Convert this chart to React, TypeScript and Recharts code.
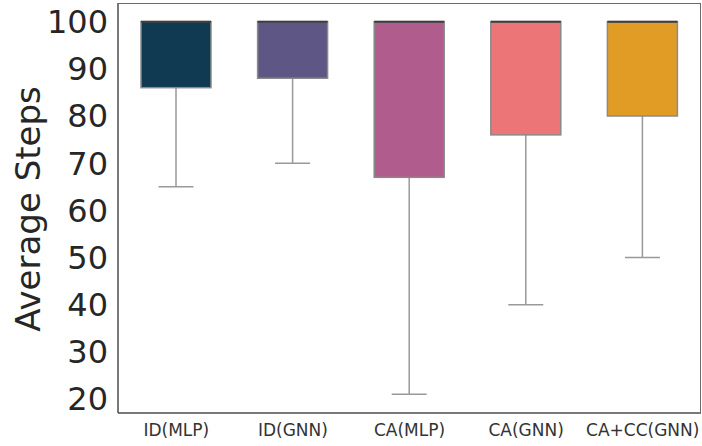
import React from 'react'
import { BarChart, Bar, XAxis, YAxis, Label } from 'recharts'

const categories = ['ID(MLP)', 'ID(GNN)', 'CA(MLP)', 'CA(GNN)', 'CA+CC(GNN)']
const whiskerLow = [65, 70, 21, 40, 50]
const q1 = [86, 88, 67, 76, 80]
const median = [100, 100, 100, 100, 100]
const q3 = [100, 100, 100, 100, 100]
const whiskerHigh = [100, 100, 100, 100, 100]
const boxColors = ['#0f3a52', '#5e5785', '#b05c8c', '#ec7577', '#e09c24']
const yTicks = [20, 30, 40, 50, 60, 70, 80, 90, 100]

const data = categories.map((name, i) => ({
  name,
  range: [whiskerLow[i], whiskerHigh[i]],
  low: whiskerLow[i],
  q1: q1[i],
  med: median[i],
  q3: q3[i],
  high: whiskerHigh[i],
  color: boxColors[i],
}))

function BoxShape(props: any) {
  const { x, y, width, height, payload } = props
  const top = Math.min(y, y + height)
  const h = Math.abs(height)
  const { low, high } = payload
  const py = (v: number) => (high === low ? top : top + (h * (high - v)) / (high - low))
  const cx = x + width / 2
  const capW = width / 2
  const whisker = '#999999'
  return (
    <g>
      <line x1={cx} x2={cx} y1={py(payload.low)} y2={py(payload.q1)} stroke={whisker} strokeWidth={1.5} />
      <line x1={cx - capW / 2} x2={cx + capW / 2} y1={py(payload.low)} y2={py(payload.low)} stroke={whisker} strokeWidth={1.5} />
      <line x1={cx} x2={cx} y1={py(payload.high)} y2={py(payload.q3)} stroke={whisker} strokeWidth={1.5} />
      <rect
        x={x}
        y={py(payload.q3)}
        width={width}
        height={py(payload.q1) - py(payload.q3)}
        fill={payload.color}
        stroke="#8a8a8a"
        strokeWidth={1.5}
      />
      <line x1={x} x2={x + width} y1={py(payload.med)} y2={py(payload.med)} stroke="#3d3d3d" strokeWidth={2} />
    </g>
  )
}

export default function App() {
  return (
    <div style={{ position: 'fixed', top: 0, left: 0, width: 702, height: 446, background: '#fff' }}>
      <BarChart width={702} height={446} data={data} margin={{ top: 3, right: 1, bottom: 0, left: 0 }}>
        <XAxis
          dataKey="name"
          height={33}
          tickLine={false}
          tickSize={8}
          tickMargin={3}
          axisLine={{ stroke: '#4d4d4d', strokeWidth: 1.5 }}
          tick={{ fontSize: 17, fill: '#333333', fontFamily: 'DejaVu Sans' }}
          interval={0}
        />
        <YAxis
          type="number"
          domain={[17.05, 103.95]}
          ticks={yTicks}
          allowDataOverflow
          width={118}
          tickLine={false}
          tickSize={8}
          tickMargin={2}
          axisLine={{ stroke: '#4d4d4d', strokeWidth: 1.5 }}
          tick={{ fontSize: 32, fill: '#262626', fontFamily: 'DejaVu Sans' }}
        >
          <Label
            content={() => (
              <text
                x={28}
                y={209}
                transform="rotate(-90 28 209)"
                textAnchor="middle"
                dominantBaseline="central"
                fontSize={34}
                fill="#262626"
                fontFamily="DejaVu Sans"
              >
                Average Steps
              </text>
            )}
          />
        </YAxis>
        <Bar dataKey="range" barSize={70} shape={BoxShape} isAnimationActive={false} />
      </BarChart>
      <div
        style={{
          position: 'absolute',
          left: 118,
          top: 3,
          width: 583,
          height: 410,
          boxSizing: 'border-box',
          borderTop: '1.5px solid #6b6b6b',
          borderRight: '1.5px solid #6b6b6b',
          pointerEvents: 'none',
        }}
      />
    </div>
  )
}
